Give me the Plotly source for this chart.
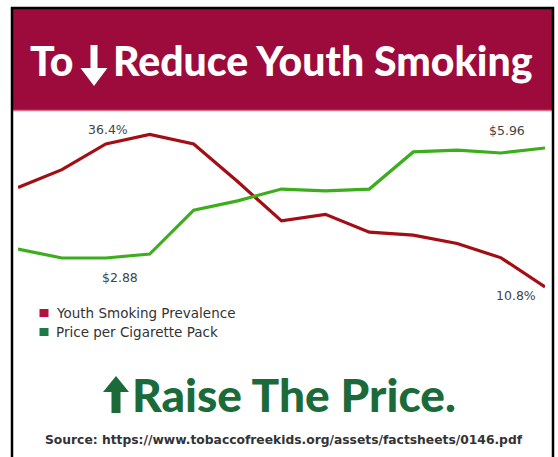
import plotly.graph_objects as go

W, H = 558, 457

# ---- data ----
years = [1991, 1993, 1995, 1997, 1999, 2001, 2003, 2005, 2007, 2009, 2011, 2013, 2015]
youth_smoking = [27.5, 30.5, 34.8, 36.4, 34.8, 28.5, 21.9, 23.0, 20.0, 19.5, 18.1, 15.7, 10.8]
pack_price = [3.13, 2.88, 2.88, 2.99, 4.22, 4.48, 4.81, 4.76, 4.81, 5.85, 5.90, 5.82, 5.96]
series_names = ["Youth Smoking Prevalence", "Price per Cigarette Pack"]
title_text = ["To", "Reduce Youth Smoking"]
bottom_text = "Raise The Price."
source_text = "Source: https://www.tobaccofreekids.org/assets/factsheets/0146.pdf"


def px(x):
    return x / W


def py(y):
    return 1 - y / H


RED_LINE = "#a30d14"
GREEN_LINE = "#3cae1e"
RED_KEY = "#b3103f"
GREEN_KEY = "#1b7a45"
BANNER = "#9c0b3b"
DARK_GREEN = "#1b6b3a"

fig = go.Figure()

fig.add_trace(go.Scatter(x=years, y=youth_smoking, mode="lines", name=series_names[0],
                         line=dict(color=RED_LINE, width=3.2),
                         showlegend=False, yaxis="y", hoverinfo="skip"))
fig.add_trace(go.Scatter(x=years, y=pack_price, mode="lines", name=series_names[1],
                         line=dict(color=GREEN_LINE, width=3.2),
                         showlegend=False, yaxis="y2", hoverinfo="skip"))

# plot-area geometry
y_top_px, y_bot_px = 113, 321.6
dom = [py(y_bot_px), py(y_top_px)]

fig.update_layout(
    width=W, height=H,
    margin=dict(l=0, r=0, t=0, b=0),
    paper_bgcolor="white", plot_bgcolor="rgba(0,0,0,0)",
    xaxis=dict(domain=[px(18), px(545)], range=[1991, 2015], visible=False, fixedrange=True),
    yaxis=dict(domain=dom, range=[5.0, 40.0], visible=False, fixedrange=True),
    yaxis2=dict(domain=dom, range=[1.099, 6.94], visible=False, overlaying="y", fixedrange=True),
    showlegend=False,
)

label_font = dict(family="DejaVu Sans", size=12.5, color="#444444")
fig.add_annotation(x=years[3], y=youth_smoking[3], xref="x", yref="y", text=f"{youth_smoking[3]}%",
                   showarrow=False, xshift=-42, yshift=5, font=label_font)
fig.add_annotation(x=years[-1], y=youth_smoking[-1], xref="x", yref="y", text=f"{youth_smoking[-1]}%",
                   showarrow=False, xshift=-29, yshift=-8, font=label_font)
fig.add_annotation(x=years[-1], y=pack_price[-1], xref="x", yref="y2", text=f"${pack_price[-1]:.2f}",
                   showarrow=False, xshift=-38, yshift=18, font=label_font)
fig.add_annotation(x=years[2], y=pack_price[2], xref="x", yref="y2", text=f"${pack_price[2]:.2f}",
                   showarrow=False, xshift=14, yshift=-19, font=label_font)

shapes = []
# banner
shapes.append(dict(type="rect", xref="paper", yref="paper", x0=px(12), x1=px(553), y0=py(110), y1=py(8),
                   fillcolor=BANNER, line=dict(width=0), layer="below"))
shapes.append(dict(type="line", xref="paper", yref="paper", x0=px(12), x1=px(553), y0=py(110.5), y1=py(110.5),
                   line=dict(color="#d8708e", width=1.5)))
# frame
shapes.append(dict(type="rect", xref="paper", yref="paper", x0=px(12), x1=px(553), y0=py(470), y1=py(8),
                   line=dict(color="black", width=2.5), fillcolor="rgba(0,0,0,0)"))

# legend (square keys + labels)
legend_font = dict(family="DejaVu Sans", size=13.5, color="#333333")
for i, (name, col) in enumerate(zip(series_names, [RED_KEY, GREEN_KEY])):
    yc = 313 + 19 * i
    shapes.append(dict(type="rect", xref="paper", yref="paper", x0=px(39.5), x1=px(48.5),
                       y0=py(yc + 4), y1=py(yc - 4), fillcolor=col, line=dict(width=0)))
    fig.add_annotation(x=px(54), y=py(yc), xref="paper", yref="paper", text=name,
                       showarrow=False, xanchor="left", yanchor="middle", font=legend_font)


def arrow_path(cx, y_tail, y_tip, shaft_w, head_w, head_h):
    d = 1 if y_tip > y_tail else -1
    yb = y_tip - d * head_h
    pts = [(cx - shaft_w / 2, y_tail), (cx + shaft_w / 2, y_tail), (cx + shaft_w / 2, yb),
           (cx + head_w / 2, yb), (cx, y_tip), (cx - head_w / 2, yb), (cx - shaft_w / 2, yb)]
    return "M " + " L ".join(f"{px(x):.5f},{py(y):.5f}" for x, y in pts) + " Z"


# down arrow in title
shapes.append(dict(type="path", xref="paper", yref="paper", path=arrow_path(94, 45, 86, 7, 27, 18),
                   fillcolor="white", line=dict(width=0)))
# up arrow before bottom text
shapes.append(dict(type="path", xref="paper", yref="paper", path=arrow_path(116, 413, 376, 9, 26, 16),
                   fillcolor=DARK_GREEN, line=dict(width=0)))
fig.update_layout(shapes=shapes)

title_font = dict(family="Lato", size=41, color="white", weight=900)
fig.add_annotation(x=px(76), y=py(61), xref="paper", yref="paper", text=title_text[0],
                   showarrow=False, xanchor="right", yanchor="middle", font=title_font)
fig.add_annotation(x=px(111), y=py(61), xref="paper", yref="paper", text=title_text[1],
                   showarrow=False, xanchor="left", yanchor="middle", font=title_font)

fig.add_annotation(x=px(130), y=py(394), xref="paper", yref="paper", text=bottom_text,
                   showarrow=False, xanchor="left", yanchor="middle",
                   font=dict(family="Lato", size=46, color=DARK_GREEN, weight=900))
fig.add_annotation(x=px(284), y=py(440), xref="paper", yref="paper", text=source_text,
                   showarrow=False, xanchor="center", yanchor="middle",
                   font=dict(family="DejaVu Sans", size=12.3, color="#333333", weight="bold"))

fig.write_html("out.html", config={"displayModeBar": False},
               post_script="document.body.style.margin='0px';")
